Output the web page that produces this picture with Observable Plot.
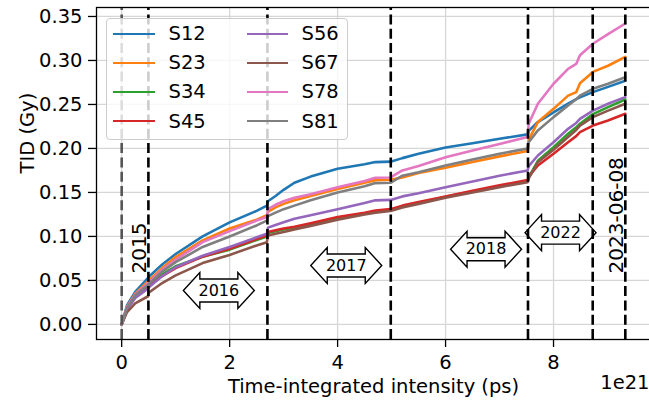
<!DOCTYPE html>
<html><head><meta charset="utf-8">
<script src="https://cdn.jsdelivr.net/npm/d3@7"></script>
<script src="https://cdn.jsdelivr.net/npm/@observablehq/plot@0.6"></script>
<style>
html,body{margin:0;padding:0;background:#fff;}
#wrap{position:relative;width:649px;height:403px;overflow:hidden;font-family:"DejaVu Sans",sans-serif;}
#legend{position:absolute;left:106px;top:18px;width:240px;height:120px;border:1px solid #cccccc;border-radius:4px;background:rgba(255,255,255,0.8);}
.hl{position:absolute;height:0;border-top-style:solid;border-top-width:2.6px;}
.lt{position:absolute;font-size:19.5px;line-height:24px;height:24px;color:#000;white-space:nowrap;}
</style></head>
<body><div id="wrap"></div>
<script>
// x: time-integrated intensity (units of 1e21 ps)
const tii = [0, 0.1, 0.25, 0.49, 0.5, 0.75, 1.0, 1.5, 2.0, 2.5, 2.69, 2.71, 2.85, 3.0, 3.2, 3.5, 4.0, 4.5, 4.7, 4.98, 5.2, 5.5, 6.0, 6.5, 7.0, 7.52, 7.54, 7.71, 8.0, 8.27, 8.42, 8.49, 8.73, 9.01, 9.33];
// TID (Gy) per sector
const S12 = [0, 0.022, 0.037, 0.053, 0.054, 0.068, 0.080, 0.100, 0.116, 0.129, 0.135, 0.140, 0.146, 0.153, 0.161, 0.168, 0.177, 0.182, 0.1845, 0.185, 0.189, 0.194, 0.201, 0.206, 0.211, 0.216, 0.220, 0.230, 0.241, 0.251, 0.256, 0.258, 0.264, 0.270, 0.277];
const S23 = [0, 0.020, 0.035, 0.049, 0.050, 0.064, 0.0765, 0.0955, 0.109, 0.119, 0.124, 0.128, 0.133, 0.137, 0.141, 0.146, 0.154, 0.161, 0.164, 0.1645, 0.167, 0.172, 0.178, 0.1845, 0.191, 0.197, 0.210, 0.230, 0.245, 0.260, 0.264, 0.274, 0.287, 0.294, 0.304];
const S34 = [0, 0.018, 0.032, 0.044, 0.045, 0.057, 0.066, 0.077, 0.085, 0.096, 0.100, 0.104, 0.106, 0.108, 0.110, 0.114, 0.121, 0.126, 0.128, 0.130, 0.134, 0.138, 0.145, 0.151, 0.157, 0.163, 0.167, 0.186, 0.2015, 0.2167, 0.224, 0.228, 0.239, 0.247, 0.2557];
const S45 = [0, 0.018, 0.031, 0.042, 0.043, 0.055, 0.064, 0.077, 0.086, 0.097, 0.101, 0.105, 0.107, 0.109, 0.111, 0.115, 0.122, 0.127, 0.1295, 0.131, 0.135, 0.139, 0.1455, 0.152, 0.158, 0.164, 0.168, 0.1807, 0.194, 0.207, 0.214, 0.2186, 0.226, 0.2318, 0.2394];
const S56 = [0, 0.017, 0.030, 0.041, 0.042, 0.055, 0.065, 0.078, 0.088, 0.099, 0.103, 0.110, 0.113, 0.116, 0.120, 0.124, 0.131, 0.138, 0.141, 0.1415, 0.1455, 0.149, 0.156, 0.1625, 0.169, 0.175, 0.180, 0.192, 0.207, 0.2223, 0.229, 0.2337, 0.243, 0.2508, 0.2583];
const S67 = [0, 0.014, 0.024, 0.032, 0.036, 0.047, 0.0557, 0.0697, 0.079, 0.0898, 0.0935, 0.101, 0.103, 0.105, 0.108, 0.112, 0.119, 0.125, 0.127, 0.129, 0.133, 0.137, 0.144, 0.150, 0.156, 0.1617, 0.166, 0.1844, 0.1985, 0.2129, 0.221, 0.226, 0.2356, 0.243, 0.2508];
const S78 = [0, 0.020, 0.034, 0.047, 0.048, 0.062, 0.0735, 0.0935, 0.106, 0.118, 0.122, 0.131, 0.136, 0.140, 0.144, 0.148, 0.156, 0.163, 0.1667, 0.167, 0.175, 0.180, 0.190, 0.1977, 0.205, 0.213, 0.228, 0.2508, 0.2735, 0.2905, 0.296, 0.306, 0.319, 0.330, 0.342];
const S81 = [0, 0.019, 0.033, 0.045, 0.046, 0.060, 0.0708, 0.088, 0.100, 0.1125, 0.118, 0.123, 0.127, 0.131, 0.135, 0.141, 0.150, 0.157, 0.1606, 0.161, 0.169, 0.173, 0.1807, 0.1875, 0.194, 0.200, 0.207, 0.2205, 0.2356, 0.2489, 0.256, 0.260, 0.2678, 0.2735, 0.281];

const seriesNames = ["S12", "S23", "S34", "S45", "S56", "S67", "S78", "S81"];
const seriesValues = [S12, S23, S34, S45, S56, S67, S78, S81];
const seriesColors = ["#1f77b4", "#ff7f0e", "#2ca02c", "#d62728", "#9467bd", "#8c564b", "#e377c2", "#7f7f7f"];

// vertical markers
const startLine = [0];
const yearBoundaries = [0.495, 2.70, 4.985, 7.527, 8.726, 9.33];
// rotated labels
const markerLabels = ["2015", "2023-06-08"];
const markerLabelX = [0.495, 9.33];
const markerLabelY = [0.058, 0.058];
// double-arrow year labels
const arrowYears = ["2016", "2017", "2018", "2022"];
const arrowX = [1.80, 4.16, 6.75, 8.13];
const arrowY = [0.0386, 0.067, 0.0855, 0.1043];

const xTicks = [0, 2, 4, 6, 8];
const yTicks = [0, 0.05, 0.10, 0.15, 0.20, 0.25, 0.30, 0.35];
const xLabel = "Time-integrated intensity (ps)";
const yLabel = "TID (Gy)";
const xOffsetText = "1e21";

const rows = [];
seriesNames.forEach((name, k) => {
  tii.forEach((x, i) => rows.push({series: name, x, tid: seriesValues[k][i]}));
});
const arrows = arrowYears.map((t, i) => ({t, x: arrowX[i], y: arrowY[i]}));
const marker = markerLabels.map((t, i) => ({t, x: markerLabelX[i], y: markerLabelY[i]}));

const yMin = -0.01715, yMax = 0.3602;

const darrow = {
  draw(ctx) {
    const hw = 19, hh = 11.5, e = 6.5, d = 16.5;
    ctx.moveTo(-hw, -hh); ctx.lineTo(hw, -hh); ctx.lineTo(hw, -hh - e);
    ctx.lineTo(hw + d, 0); ctx.lineTo(hw, hh + e); ctx.lineTo(hw, hh);
    ctx.lineTo(-hw, hh); ctx.lineTo(-hw, hh + e); ctx.lineTo(-hw - d, 0);
    ctx.lineTo(-hw, -hh - e); ctx.closePath();
  }
};

const dash = "10,4.3";
const chart = Plot.plot({
  width: 649, height: 403,
  marginLeft: 96, marginRight: -1, marginTop: 7, marginBottom: 64,
  x: {domain: [-0.4665, 9.7965], label: null},
  y: {domain: [yMin, yMax], label: null},
  color: {domain: seriesNames, range: seriesColors},
  style: {fontFamily: "DejaVu Sans", fontSize: "19.5px", color: "#000", background: "#fff", overflow: "visible"},
  marks: [
    Plot.gridX(xTicks, {stroke: "#d6d6d6", strokeOpacity: 1, strokeWidth: 1.3}),
    Plot.gridY(yTicks, {stroke: "#d6d6d6", strokeOpacity: 1, strokeWidth: 1.3}),
    Plot.dot(arrows, {x: "x", y: "y", symbol: darrow, fill: "white", stroke: "black", strokeWidth: 1.4}),
    Plot.text(arrows, {x: "x", y: "y", text: "t", fontSize: 16, fill: "black"}),
    Plot.line(rows, {x: "x", y: "tid", z: "series", stroke: "series", strokeWidth: 2.6, strokeLinejoin: "round"}),
    Plot.ruleX(startLine, {y1: yMin, y2: yMax, stroke: "#555", strokeWidth: 2.6, strokeDasharray: dash}),
    Plot.ruleX(yearBoundaries, {y1: yMin, y2: yMax, stroke: "black", strokeWidth: 2.6, strokeDasharray: dash}),
    Plot.text(marker, {x: "x", y: "y", text: "t", rotate: -90, textAnchor: "start", dx: -9, fontSize: 20, fill: "black"}),
    Plot.axisX(xTicks, {tickSize: 8, tickPadding: 7.5, strokeWidth: 1.3, label: null, fontSize: 19.5}),
    Plot.axisY(yTicks, {tickSize: 8, tickPadding: 6, strokeWidth: 1.3, label: null, fontSize: 19.5, tickFormat: d3.format(".2f")}),
    Plot.frame({stroke: "black", strokeWidth: 1.3}),
    Plot.text([xLabel], {frameAnchor: "bottom", text: d => d, dy: 53, fontSize: 19.5, fill: "black"}),
    Plot.text([yLabel], {frameAnchor: "left", text: d => d, rotate: -90, dx: -69, fontSize: 19.5, fill: "black"}),
    Plot.text([xOffsetText], {frameAnchor: "bottom-right", text: d => d, textAnchor: "end", dx: -1, dy: 49, fontSize: 19.5, fill: "black"})
  ]
});

const wrap = document.getElementById("wrap");
wrap.appendChild(chart);

// legend (two columns of four)
const legend = document.createElement("div");
legend.id = "legend";
wrap.appendChild(legend);
const colHandle = [[113, 155], [247, 288]];
const colText = [168.5, 301.5];
const rowY = [34, 63, 92, 121.7];
seriesNames.forEach((name, i) => {
  const c = Math.floor(i / 4), r = i % 4;
  const h = document.createElement("div");
  h.className = "hl";
  h.style.left = (colHandle[c][0] - 107) + "px";
  h.style.width = (colHandle[c][1] - colHandle[c][0]) + "px";
  h.style.top = (rowY[r] - 19 - 1.3) + "px";
  h.style.borderTopColor = seriesColors[i];
  legend.appendChild(h);
  const t = document.createElement("div");
  t.className = "lt";
  t.textContent = name;
  t.style.left = (colText[c] - 107) + "px";
  t.style.top = (rowY[r] - 19 - 12) + "px";
  legend.appendChild(t);
});
</script>
</body></html>
